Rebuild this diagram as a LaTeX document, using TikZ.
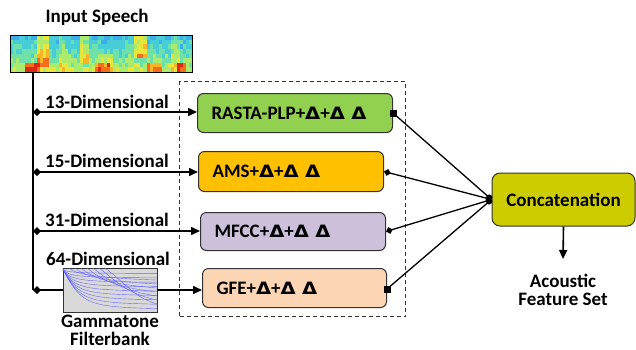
\documentclass[tikz,border=0pt]{standalone}
\usepackage{fontspec}
\usepackage{graphicx}
\setmainfont{Carlito}
\newfontfamily\dejavu{DejaVu Sans}
\newcommand\dlt{\scalebox{1.15}[1]{\dejavu\fontsize{17}{19}\selectfont\bfseries Δ}}
\usetikzlibrary{arrows.meta}
\definecolor{jet0}{RGB}{45,130,230}
\definecolor{jet1}{RGB}{60,175,235}
\definecolor{jet2}{RGB}{70,205,215}
\definecolor{jet3}{RGB}{110,225,170}
\definecolor{jet4}{RGB}{170,235,110}
\definecolor{jet5}{RGB}{230,230,60}
\definecolor{jet6}{RGB}{250,180,40}
\definecolor{jet7}{RGB}{245,110,30}
\definecolor{jet8}{RGB}{220,40,20}
\definecolor{rastac}{RGB}{146,208,80}
\definecolor{amsc}{RGB}{255,192,0}
\definecolor{mfccc}{RGB}{204,192,218}
\definecolor{gfec}{RGB}{252,213,181}
\definecolor{concc}{RGB}{204,204,0}
\definecolor{gtc}{RGB}{217,217,217}
\definecolor{bord}{RGB}{50,50,50}
\tikzset{
  featbox/.style={draw=bord, line width=1pt, rounded corners=6pt, align=left,
    inner xsep=14pt, inner ysep=0pt, font=\bfseries\fontsize{19}{21}\selectfont},
  trunk/.style={line width=1.8pt, black},
  branch/.style={line width=1.6pt, black, {Diamond[length=8pt,width=8pt]}-{Triangle[length=9pt,width=8pt]}},
  plainarrow/.style={line width=1.6pt, black, -{Triangle[length=9pt,width=8pt]}},
  cconn/.style={line width=1.3pt, black, -{Circle[length=6pt]}},
  dmconn/.style={line width=1.3pt, black, {Diamond[length=7pt,width=7pt]}-{Circle[length=6pt]}},
  lbl/.style={font=\bfseries\fontsize{19}{18}\selectfont, inner sep=0pt},
}
\begin{document}
\begin{tikzpicture}[x=1pt,y=-1pt]
\useasboundingbox (0,0) rectangle (636,349);
% title
\node[lbl] (title) at (97,17) {Input Speech};
% spectrogram
\pgfmathsetseed{5}
\foreach \i in {0,...,59}{
  \foreach \j in {0,...,7}{
    \pgfmathsetmacro\hot{(abs(\i-10.5)<1.6)*0.3*(\j<7) + (abs(\i-24)<1.6)*0.22*(\j<6) + (abs(\i-42.5)<1.6)*0.32*(\j<5) + (abs(\i-31)<2.5)*0.12*(\j>3) + (\j>5)*((abs(\i-7)<2.5)*0.38 + (abs(\i-30)<3)*0.25 + (abs(\i-47)<3)*0.28 + (abs(\i-56)<2)*0.32) + (abs(\i-54)<1.5)*0.12 + (abs(\i-17)<1.2)*0.1}
    \pgfmathtruncatemacro\k{min(8,max(0,(0.13+0.045*\j+0.18*rnd+\hot)*9))}
    \fill[jet\k] (10+\i*3.0333,35+\j*4.625) rectangle ++(3.1,4.7);
  }
}
\node[draw=black, line width=0.8pt, minimum width=182pt, minimum height=37pt, inner sep=0pt, anchor=north west] (spec) at (10,35) {};
% dashed frame
\node[draw=bord, dashed, dash pattern=on 4pt off 3pt, line width=1pt, minimum width=226pt, minimum height=235pt, inner sep=0pt, anchor=north west] (frame) at (179,81) {};
% feature boxes
\node[featbox, fill=rastac, minimum height=39pt, text width=167pt, anchor=north west] (rasta) at (197,93) {\mbox{RASTA-PLP+\dlt+\dlt{} \dlt}};
\node[featbox, fill=amsc, minimum height=40pt, text width=157pt, anchor=north west] (ams) at (198,151) {\mbox{AMS+\dlt+\dlt{} \dlt}};
\node[featbox, fill=mfccc, minimum height=38pt, text width=157pt, anchor=north west] (mfcc) at (200,212) {\mbox{MFCC+\dlt+\dlt{} \dlt}};
\node[featbox, fill=gfec, minimum height=39pt, text width=156pt, anchor=north west] (gfe) at (202,268) {\mbox{GFE+\dlt+\dlt{} \dlt}};
% concatenation
\node[draw=bord, line width=1pt, rounded corners=8pt, fill=concc, minimum width=143pt, minimum height=53pt, inner sep=0pt, font=\bfseries\fontsize{19}{21}\selectfont] (conc) at (563.5,199.5) {Concatenation};
% gammatone filterbank
\node[draw=bord, line width=0.8pt, fill=gtc, minimum width=94pt, minimum height=44pt, inner sep=0pt] (gt) at (110,290) {};
\begin{scope}
\clip (gt.south west) rectangle (gt.north east);
\foreach \k in {1,...,9}{
  \draw[blue!60, line width=0.4pt] (63,269) .. controls (63+2*\k,269+4*\k) and (80+\k,269+4.2*\k) .. (157,269+4.4*\k);
}
\foreach \k in {1,...,7}{
  \draw[blue!60, line width=0.4pt] (63+6*\k,268) .. controls (66+9*\k,272+2*\k) and (90+6*\k,275+3*\k) .. (157,276+4*\k);
}
\end{scope}
\node[lbl, align=center] (gtlabel) at (110,330) {Gammatone\\Filterbank};
% trunk and junctions
\coordinate (j1) at (33,112);
\coordinate (j2) at (33,172);
\coordinate (j3) at (33,231);
\coordinate (j4) at (33,290);
\draw[trunk] (spec.south -| j1) -- (j4);
\draw[branch] (j1) -- (j1 -| rasta.west);
\draw[branch] (j2) -- (j2 -| ams.west);
\draw[branch] (j3) -- (j3 -| mfcc.west);
\draw[line width=1.6pt, {Diamond[length=8pt,width=8pt]}-] (j4) -- (gt.west);
\draw[plainarrow] (gt.east) -- (gt.east -| gfe.west);
% dimension labels
\node[lbl] (d13) at (107,102) {13-Dimensional};
\node[lbl] (d15) at (107,161) {15-Dimensional};
\node[lbl] (d31) at (107,220) {31-Dimensional};
\node[lbl] (d64) at (108,259) {64-Dimensional};
% to concatenation
\coordinate (gfeout) at (gfe.east |- 0,289);
\draw[cconn] (rasta.east) -- (conc.west);
\draw[dmconn] (ams.east) -- (conc.west);
\draw[dmconn] (mfcc.east) -- (conc.west);
\draw[cconn] (gfeout) -- (conc.west);
\fill[black] ([shift={(-3.5,-3.5)}]rasta.east) rectangle ++(7,7);
\fill[black] ([shift={(-3.5,-3.5)}]gfeout) rectangle ++(7,7);
% output
\node[lbl, align=center] (out) at (563,290) {Acoustic\\Feature Set};
\coordinate (outtip) at (563,259);
\draw[plainarrow] (conc.south) -- (outtip);
\end{tikzpicture}
\end{document}
